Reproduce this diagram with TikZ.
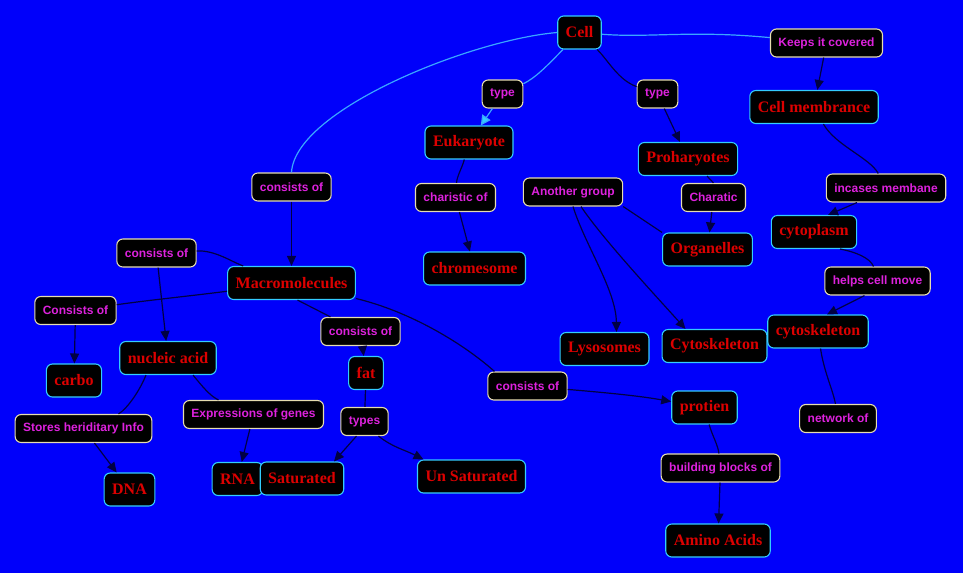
\documentclass[tikz,border=0pt]{standalone}
\usepackage{fontspec}
\usetikzlibrary{arrows.meta}
\newfontfamily\conceptfont{Liberation Serif}
\newfontfamily\linkfont{Liberation Sans}
\definecolor{MapBlue}{HTML}{0000FA}
\definecolor{ConceptRed}{HTML}{DC0000}
\definecolor{ConceptEdge}{HTML}{33CCFF}
\definecolor{LinkEdge}{HTML}{E6DDB0}
\definecolor{LinkMagenta}{HTML}{DD22DD}
\definecolor{LineDark}{HTML}{000044}
\definecolor{CellLine}{HTML}{3AA6FF}

\begin{document}
\begin{tikzpicture}[
  x=1pt, y=-1pt,
  >={Triangle[length=10pt,width=9pt]},
  concept/.style={draw=ConceptEdge, fill=black, line width=1.1pt, rounded corners=6pt, minimum height=33pt, inner xsep=8pt, text=ConceptRed, font={\conceptfont\bfseries\fontsize{16}{18}\selectfont}},
  linkbox/.style={draw=LinkEdge, fill=black, line width=1.1pt, rounded corners=6pt, minimum height=28pt, inner xsep=8pt, text=LinkMagenta, font={\linkfont\bfseries\fontsize{12}{14}\selectfont}},
  plain/.style={draw=LineDark, line width=1.2pt},
  arrow/.style={->, draw=LineDark, line width=1.2pt},
  cellline/.style={draw=CellLine, line width=1.2pt},
  cellarrow/.style={draw=CellLine, line width=1.2pt, -{Triangle[length=10pt,width=10pt,fill=ConceptEdge]}}
]
\fill[MapBlue] (0,0) rectangle (963,573);
\useasboundingbox (0,0) rectangle (963,573);

\node[concept] (cell) at (579.5,32.5) {Cell};
\node[linkbox] (keeps) at (826.5,43) {Keeps it covered};
\node[linkbox] (typeA) at (502.5,94) {type};
\node[linkbox] (typeB) at (657.5,94) {type};
\node[concept] (membrane) at (814,107) {Cell membrance};
\node[concept] (euk) at (469,142.5) {Eukaryote};
\node[concept] (prok) at (688,159) {Proharyotes};
\node[linkbox] (consistsTop) at (291.5,187) {consists of};
\node[linkbox] (incases) at (886,188) {incases membane};
\node[linkbox] (charistic) at (455.5,197.5) {charistic of};
\node[linkbox] (another) at (573,192) {Another group};
\node[linkbox] (charatic) at (713.5,197.5) {Charatic};
\node[concept] (cytoplasm) at (814,232) {cytoplasm};
\node[concept] (organelles) at (707.5,249.5) {Organelles};
\node[linkbox] (consistsL) at (156.5,253) {consists of};
\node[concept] (chromesome) at (474.5,268.5) {chromesome};
\node[concept] (macro) at (291.5,283) {Macromolecules};
\node[linkbox] (helps) at (877.5,281) {helps cell move};
\node[linkbox] (consistsFL) at (75.5,310.5) {Consists of};
\node[linkbox] (consistsM) at (360.5,331.5) {consists of};
\node[concept] (cytosk) at (818,331.5) {cytoskeleton};
\node[concept] (cytoskB) at (714.5,346) {Cytoskeleton};
\node[concept] (lysosomes) at (604.5,349) {Lysosomes};
\node[concept] (nucleic) at (168,358) {nucleic acid};
\node[concept] (fat) at (366,373) {fat};
\node[concept] (carbo) at (74,380.5) {carbo};
\node[linkbox] (consistsR) at (527.5,386) {consists of};
\node[concept] (protien) at (704.5,407.5) {protien};
\node[linkbox] (expressions) at (253.5,414.5) {Expressions of genes};
\node[linkbox] (types) at (364.5,421.5) {types};
\node[linkbox] (network) at (838,418.5) {network of};
\node[linkbox] (stores) at (83.5,428.5) {Stores heriditary Info};
\node[concept] (rna) at (237.5,479) {RNA};
\node[concept] (saturated) at (302,478.5) {Saturated};
\node[concept] (unsat) at (471.5,476.5) {Un Saturated};
\node[linkbox] (building) at (720.5,468) {building blocks of};
\node[concept] (dna) at (129.5,489.5) {DNA};
\node[concept] (amino) at (718,540.5) {Amino Acids};

\draw[cellline] (cell.west) .. controls (470,40) and (295,110) .. (consistsTop.north);
\draw[cellline] (cell) .. controls (545,68) and (535,78) .. (typeA);
\draw[cellarrow] (typeA) -- (euk);
\draw[cellline] (cell) .. controls (650,38) and (690,30) .. (keeps);
\draw[plain] (cell) .. controls (608,60) and (618,80) .. (typeB);
\draw[arrow] (typeB) -- (prok);
\draw[arrow] (keeps) -- (membrane);
\draw[plain] (membrane) .. controls (835,145) and (870,158) .. (incases);
\draw[arrow] ([xshift=-29pt]incases.south) -- ([xshift=14pt]cytoplasm.north);
\draw[plain] ([xshift=26pt]cytoplasm.south) .. controls (856,252) and (870,258) .. ([xshift=-4pt]helps.north);
\draw[arrow] ([xshift=-13pt]helps.south) -- ([xshift=9pt]cytosk.north);
\draw[plain] (cytosk) .. controls (824,372) and (833,390) .. (network);
\draw[plain] (euk) .. controls (462,168) and (457,176) .. (charistic);
\draw[arrow] (charistic) -- (chromesome);
\draw[plain] ([xshift=19pt]prok.south) -- (charatic.north);
\draw[arrow] (charatic) -- (organelles);
\draw[plain] (another.south east) -- (organelles.north west);
\draw[arrow] (another.south) .. controls (585,245) and (616,290) .. ([xshift=12pt]lysosomes.north);
\draw[arrow] ([xshift=8pt]another.south) .. controls (602,238) and (655,295) .. ([xshift=-29pt]cytoskB.north);
\draw[arrow] (consistsTop) -- (macro);
\draw[plain] (macro) .. controls (232,262) and (215,250) .. (consistsL);
\draw[arrow] (consistsL) -- (nucleic);
\draw[plain] (macro) .. controls (190,296) and (150,300) .. (consistsFL);
\draw[arrow] (consistsFL) -- (carbo);
\draw[plain] ([xshift=6pt]macro.south) -- ([xshift=-30pt]consistsM.north);
\draw[arrow] (consistsM) -- (fat);
\draw[plain] (macro) .. controls (412,312) and (465,345) .. ([xshift=-33pt]consistsR.north);
\draw[arrow] (consistsR) .. controls (610,393) and (640,396) .. (protien);
\draw[plain] (protien) .. controls (712,435) and (718,445) .. (building);
\draw[arrow] (building) -- (amino);
\draw[plain] ([xshift=-22pt]nucleic.south) .. controls (140,390) and (128,408) .. ([xshift=35pt]stores.north);
\draw[arrow] (stores) -- (dna);
\draw[plain] ([xshift=25pt]nucleic.south) .. controls (202,386) and (210,396) .. ([xshift=-35pt]expressions.north);
\draw[arrow] (expressions) -- (rna);
\draw[plain] (fat) -- (types);
\draw[arrow] ([xshift=-8pt]types.south) -- ([xshift=32pt]saturated.north);
\draw[arrow] ([xshift=14pt]types.south) .. controls (392,447) and (405,450) .. ([xshift=-48pt]unsat.north);
\end{tikzpicture}
\end{document}
